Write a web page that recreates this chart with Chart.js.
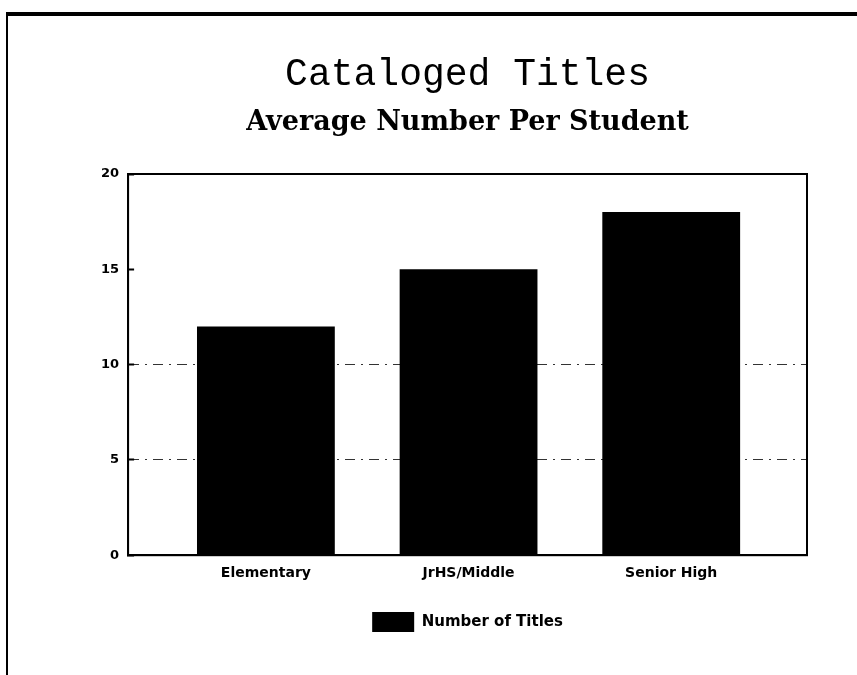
<!DOCTYPE html>
<html>
<head>
<meta charset="utf-8">
<script src="https://cdn.jsdelivr.net/npm/chart.js@4.4.0/dist/chart.umd.min.js"></script>
<style>
  html, body { margin: 0; padding: 0; background: #fff; overflow: hidden; }
  #frame { position: absolute; left: 6px; top: 12px; width: 900px; height: 700px;
           border-top: 4px solid #000; border-left: 2px solid #000; }
  #wrap { position: absolute; left: 0; top: 0; width: 857px; height: 675px; }
</style>
</head>
<body>
<div id="frame"></div>
<div id="wrap"><canvas id="c"></canvas></div>
<script>
// data
const categories = ['Elementary', 'JrHS/Middle', 'Senior High'];
const titlesPerStudent = [12, 15, 18];
const yTicks = [0, 5, 10, 15, 20];
const dashedAt = [5, 10];

Chart.defaults.color = '#000';

// plot box drawn round the chart area
const boxPlugin = {
    id: 'box',
    afterDatasetsDraw(chart) {
        const a = chart.chartArea, ctx = chart.ctx;
        ctx.save();
        ctx.strokeStyle = '#000';
        ctx.lineWidth = 2;
        ctx.strokeRect(a.left, a.top, a.right - a.left, a.bottom - a.top);
        ctx.restore();
    }
};

const tickFont = { family: 'DejaVu Sans', weight: 'bold', size: 13 };

new Chart(document.getElementById('c'), {
    type: 'bar',
    data: {
        datasets: [{
            label: 'Number of Titles',
            data: titlesPerStudent.map((v, i) => ({ x: i + 1, y: v })),
            backgroundColor: '#000',
            borderWidth: 0,
            categoryPercentage: 1,
            barPercentage: 0.68
        }]
    },
    options: {
        responsive: true,
        maintainAspectRatio: false,
        animation: false,
        layout: { padding: { left: 86, right: 50, top: 0, bottom: 33 } },
        plugins: {
            title: {
                display: true,
                fullSize: false,
                text: 'Cataloged Titles',
                font: { family: 'Liberation Mono', size: 38, weight: 'normal' },
                padding: { top: 52, bottom: 9 }
            },
            subtitle: {
                display: true,
                fullSize: false,
                text: 'Average Number Per Student',
                color: '#000',
                font: { family: 'DejaVu Serif', size: 27, weight: 'bold' },
                padding: { top: 0, bottom: 35 }
            },
            legend: {
                position: 'bottom',
                fullSize: false,
                labels: {
                    boxWidth: 42,
                    boxHeight: 20,
                    padding: 20,
                    font: { family: 'DejaVu Sans', weight: 'bold', size: 15 }
                }
            },
            tooltip: { enabled: false }
        },
        scales: {
            x: {
                type: 'linear',
                min: 0.32,
                max: 3.67,
                offset: false,
                afterBuildTicks: s => { s.ticks = categories.map((c, i) => ({ value: i + 1 })); },
                ticks: {
                    padding: 10,
                    font: { family: 'DejaVu Sans', weight: 'bold', size: 14 },
                    callback: v => categories[v - 1]
                },
                grid: { display: false, offset: false, drawTicks: false },
                border: { color: '#000', width: 2 }
            },
            y: {
                min: yTicks[0],
                max: yTicks[yTicks.length - 1],
                ticks: { stepSize: 5, padding: 15, font: tickFont },
                grid: {
                    color: c => dashedAt.includes(c.tick && c.tick.value) ? '#333' : 'rgba(0,0,0,0)',
                    lineWidth: 1,
                    tickLength: -6,
                    tickWidth: 2,
                    tickColor: '#000'
                },
                border: { color: '#000', width: 2, dash: [10, 6, 2, 6] }
            }
        }
    },
    plugins: [boxPlugin]
});
</script>
</body>
</html>
